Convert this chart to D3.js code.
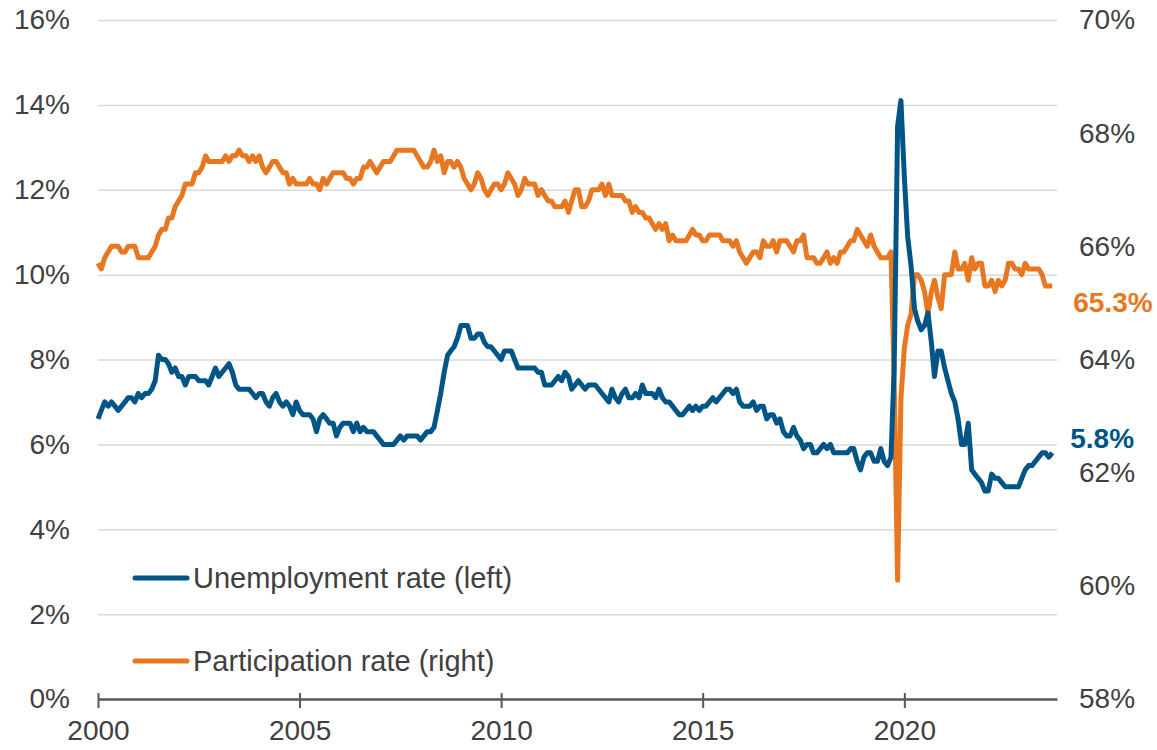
<!DOCTYPE html>
<html>
<head>
<meta charset="utf-8">
<script src="https://cdn.jsdelivr.net/npm/d3@7"></script>
<style>
  html, body { margin: 0; padding: 0; background: #ffffff; }
  svg { display: block; font-family: "Liberation Sans", Arial, sans-serif; }
</style>
</head>
<body>
<svg id="chart" width="1157" height="750"></svg>
<script>
// Monthly series, June 2000 to February 2024
const startMonth = new Date(2000, 5, 1);

// Unemployment rate, % (left axis)
const unemployment = [
  6.6, 6.8, 7.0, 6.9, 7.0, 6.9, 6.8, 6.9, 7.0, 7.1,
  7.1, 7.0, 7.2, 7.1, 7.2, 7.2, 7.3, 7.5, 8.1, 8.0,
  8.0, 7.9, 7.7, 7.8, 7.6, 7.6, 7.4, 7.6, 7.6, 7.6,
  7.5, 7.5, 7.5, 7.4, 7.6, 7.8, 7.6, 7.7, 7.8, 7.9,
  7.7, 7.4, 7.3, 7.3, 7.3, 7.3, 7.2, 7.1, 7.2, 7.2,
  7.0, 6.9, 7.1, 7.2, 7.0, 6.9, 7.0, 6.9, 6.7, 7.0,
  6.8, 6.7, 6.7, 6.7, 6.6, 6.3, 6.6, 6.7, 6.6, 6.5,
  6.5, 6.2, 6.4, 6.5, 6.5, 6.5, 6.3, 6.5, 6.3, 6.4,
  6.3, 6.3, 6.3, 6.2, 6.1, 6.0, 6.0, 6.0, 6.0, 6.1,
  6.2, 6.1, 6.2, 6.2, 6.2, 6.2, 6.1, 6.2, 6.3, 6.3,
  6.4, 6.8, 7.2, 7.7, 8.1, 8.2, 8.3, 8.5, 8.8, 8.8,
  8.8, 8.5, 8.5, 8.6, 8.6, 8.4, 8.3, 8.3, 8.2, 8.1,
  8.0, 8.2, 8.2, 8.2, 8.0, 7.8, 7.8, 7.8, 7.8, 7.8,
  7.8, 7.7, 7.7, 7.4, 7.4, 7.4, 7.5, 7.6, 7.5, 7.7,
  7.6, 7.3, 7.4, 7.5, 7.4, 7.3, 7.4, 7.4, 7.4, 7.3,
  7.2, 7.1, 7.0, 7.3, 7.1, 7.0, 7.2, 7.3, 7.1, 7.1,
  7.2, 7.1, 7.4, 7.2, 7.2, 7.2, 7.1, 7.3, 7.1, 7.0,
  7.0, 6.9, 6.8, 6.7, 6.7, 6.8, 6.9, 6.8, 6.9, 6.8,
  6.9, 6.9, 7.0, 7.1, 7.0, 7.1, 7.2, 7.3, 7.3, 7.2,
  7.3, 7.0, 6.9, 6.9, 6.9, 7.0, 6.8, 6.9, 6.9, 6.6,
  6.7, 6.7, 6.5, 6.6, 6.3, 6.2, 6.2, 6.4, 6.2, 6.1,
  5.9, 6.0, 6.0, 5.8, 5.8, 5.9, 6.0, 5.9, 6.0, 5.8,
  5.8, 5.8, 5.8, 5.8, 5.9, 5.9, 5.6, 5.4, 5.7, 5.8,
  5.8, 5.6, 5.6, 5.9, 5.6, 5.5, 5.7, 7.8, 13.5, 14.1,
  12.3, 10.9, 10.2, 9.2, 8.9, 8.7, 8.8, 9.1, 8.4, 7.6,
  8.2, 8.2, 7.8, 7.5, 7.2, 7.0, 6.6, 6.0, 6.0, 6.5,
  5.4, 5.3, 5.2, 5.1, 4.9, 4.9, 5.3, 5.2, 5.2, 5.1,
  5.0, 5.0, 5.0, 5.0, 5.0, 5.2, 5.4, 5.5, 5.5, 5.6,
  5.7, 5.8, 5.8, 5.7, 5.8
];

// Participation rate, % (right axis)
const participation = [
  65.7, 65.6, 65.8, 65.9, 66.0, 66.0, 66.0, 65.9, 65.9, 66.0,
  66.0, 66.0, 65.8, 65.8, 65.8, 65.8, 65.9, 66.0, 66.2, 66.3,
  66.3, 66.5, 66.5, 66.7, 66.8, 66.9, 67.1, 67.1, 67.1, 67.3,
  67.3, 67.4, 67.6, 67.5, 67.5, 67.5, 67.5, 67.5, 67.6, 67.5,
  67.6, 67.6, 67.7, 67.6, 67.6, 67.5, 67.6, 67.5, 67.6, 67.4,
  67.3, 67.4, 67.5, 67.5, 67.4, 67.3, 67.3, 67.1, 67.2, 67.1,
  67.1, 67.1, 67.1, 67.2, 67.1, 67.1, 67.0, 67.2, 67.1, 67.2,
  67.3, 67.3, 67.3, 67.3, 67.2, 67.2, 67.1, 67.2, 67.2, 67.4,
  67.4, 67.5, 67.4, 67.3, 67.4, 67.5, 67.5, 67.5, 67.6, 67.7,
  67.7, 67.7, 67.7, 67.7, 67.7, 67.6, 67.5, 67.4, 67.4, 67.5,
  67.7, 67.5, 67.6, 67.3, 67.5, 67.5, 67.4, 67.5, 67.4, 67.2,
  67.1, 67.0, 67.1, 67.3, 67.2, 67.0, 66.9, 67.0, 67.1, 67.1,
  67.0, 67.1, 67.3, 67.2, 67.1, 66.9, 67.0, 67.2, 67.1, 67.1,
  67.1, 66.9, 67.0, 66.9, 66.8, 66.8, 66.7, 66.7, 66.7, 66.8,
  66.6, 66.8, 67.0, 67.0, 66.7, 66.7, 66.8, 67.0, 67.0, 67.0,
  67.1, 66.9, 67.1, 66.9, 66.9, 66.9, 66.9, 66.8, 66.8, 66.6,
  66.7, 66.6, 66.6, 66.5, 66.5, 66.4, 66.3, 66.4, 66.3, 66.4,
  66.1, 66.2, 66.1, 66.1, 66.1, 66.1, 66.2, 66.3, 66.2, 66.2,
  66.1, 66.1, 66.2, 66.2, 66.2, 66.2, 66.1, 66.1, 66.1, 66.0,
  66.1, 65.9, 65.8, 65.7, 65.8, 65.9, 65.9, 65.8, 66.1, 66.0,
  66.0, 66.1, 65.9, 66.1, 66.1, 66.1, 66.0, 65.9, 66.1, 66.1,
  66.2, 65.8, 65.8, 65.8, 65.7, 65.7, 65.8, 65.9, 65.7, 65.8,
  65.7, 65.9, 65.9, 66.0, 66.1, 66.1, 66.3, 66.2, 66.1, 66.0,
  66.2, 66.0, 65.9, 65.8, 65.8, 65.8, 65.9, 63.6, 60.1, 63.3,
  64.2, 64.6, 64.8, 65.5, 65.5, 65.4, 65.2, 64.8, 65.2, 65.4,
  65.1, 64.9, 65.5, 65.5, 65.5, 65.9, 65.6, 65.6, 65.7, 65.4,
  65.8, 65.6, 65.7, 65.7, 65.3, 65.3, 65.4, 65.2, 65.4, 65.3,
  65.4, 65.7, 65.7, 65.6, 65.6, 65.5, 65.7, 65.6, 65.6, 65.6,
  65.6, 65.5, 65.3, 65.3, 65.3
];

const tickYears = [2000, 2005, 2010, 2015, 2020];
const leftTicks = [0, 2, 4, 6, 8, 10, 12, 14, 16];
const rightTicks = [58, 60, 62, 64, 66, 68, 70];
const seriesNames = ["Unemployment rate (left)", "Participation rate (right)"];

const months = unemployment.map((_, i) => d3.timeMonth.offset(startMonth, i));

const BLUE = "#005587";
const ORANGE = "#e87722";
const TEXT = "#404040";
const FONT = 28;

const plot = { left: 98, right: 1057, top: 20, bottom: 699 };

const svg = d3.select("#chart");

const x = d3.scaleTime()
  .domain([startMonth, new Date(2024, 2, 15)])
  .range([plot.left, plot.right]);

const yLeft = d3.scaleLinear().domain([0, 16]).range([plot.bottom, plot.top]);
const yRight = d3.scaleLinear().domain([58, 70]).range([plot.bottom, plot.top]);

// horizontal gridlines from the left scale
const grid = svg.append("g")
  .attr("transform", `translate(${plot.left},0)`)
  .call(d3.axisLeft(yLeft)
    .tickValues(leftTicks.filter(d => d > 0))
    .tickSize(-(plot.right - plot.left))
    .tickFormat(""));
grid.select(".domain").remove();
grid.selectAll("line").attr("stroke", "#d9d9d9").attr("stroke-width", 1.5);

// left axis labels
const leftAxis = svg.append("g")
  .attr("transform", `translate(${plot.left},0)`)
  .call(d3.axisLeft(yLeft).tickValues(leftTicks).tickSize(0).tickPadding(28)
    .tickFormat(d => d + "%"));
leftAxis.select(".domain").remove();
leftAxis.selectAll("text")
  .attr("fill", TEXT).attr("font-size", FONT)
  .attr("font-family", "Liberation Sans, Arial, sans-serif");

// right axis labels
const rightAxis = svg.append("g")
  .attr("transform", `translate(${plot.right},0)`)
  .call(d3.axisRight(yRight).tickValues(rightTicks).tickSize(0).tickPadding(22)
    .tickFormat(d => d + "%"));
rightAxis.select(".domain").remove();
rightAxis.selectAll("text")
  .attr("fill", TEXT).attr("font-size", FONT)
  .attr("font-family", "Liberation Sans, Arial, sans-serif");

// bottom axis with crossing tick marks
const xAxis = svg.append("g")
  .attr("transform", `translate(0,${plot.bottom})`)
  .call(d3.axisBottom(x)
    .tickValues(tickYears.map(yr => new Date(yr, 5, 1)))
    .tickFormat(d3.timeFormat("%Y"))
    .tickSizeInner(9).tickSizeOuter(0).tickPadding(12));
xAxis.select(".domain").attr("stroke", "#595959").attr("stroke-width", 2.5);
xAxis.selectAll(".tick line")
  .attr("y1", -6).attr("stroke", "#595959").attr("stroke-width", 2);
xAxis.selectAll("text")
  .attr("fill", TEXT).attr("font-size", FONT)
  .attr("font-family", "Liberation Sans, Arial, sans-serif");

// series lines
const lineLeft = d3.line().x((d, i) => x(months[i])).y(d => yLeft(d));
const lineRight = d3.line().x((d, i) => x(months[i])).y(d => yRight(d));

svg.append("path")
  .datum(participation)
  .attr("d", lineRight)
  .attr("fill", "none").attr("stroke", ORANGE)
  .attr("stroke-width", 5).attr("stroke-linejoin", "round");

svg.append("path")
  .datum(unemployment)
  .attr("d", lineLeft)
  .attr("fill", "none").attr("stroke", BLUE)
  .attr("stroke-width", 5).attr("stroke-linejoin", "round");

// end-of-series value labels
const last = unemployment.length - 1;
svg.append("text")
  .attr("x", x(months[last]) + 21)
  .attr("y", yRight(participation[last]) + 16)
  .attr("dy", "0.35em")
  .attr("fill", ORANGE).attr("font-size", FONT).attr("font-weight", "bold")
  .text(participation[last].toFixed(1) + "%");

svg.append("text")
  .attr("x", x(months[last]) + 18)
  .attr("y", yLeft(unemployment[last]) - 15)
  .attr("dy", "0.35em")
  .attr("fill", BLUE).attr("font-size", FONT).attr("font-weight", "bold")
  .text(unemployment[last].toFixed(1) + "%");

// legend
const legend = svg.append("g").attr("transform", "translate(135,578)");
[BLUE, ORANGE].forEach((c, i) => {
  const row = legend.append("g").attr("transform", `translate(0,${i * 83})`);
  row.append("line")
    .attr("x1", 0).attr("x2", 52).attr("y1", 0).attr("y2", 0)
    .attr("stroke", c).attr("stroke-width", 5).attr("stroke-linecap", "round");
  row.append("text")
    .attr("x", 58).attr("y", 0).attr("dy", "0.35em")
    .attr("fill", TEXT).attr("font-size", 29)
    .text(seriesNames[i]);
});
</script>
</body>
</html>
